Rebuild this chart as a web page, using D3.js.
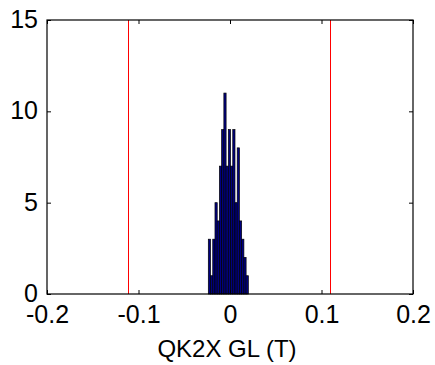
<!DOCTYPE html>
<html>
<head>
<meta charset="utf-8">
<script src="https://cdn.jsdelivr.net/npm/d3@7"></script>
<style>
  html, body { margin: 0; padding: 0; background: #fff; }
  svg text { font-family: "Liberation Sans", Arial, sans-serif; fill: #000; }
</style>
</head>
<body>
<svg id="chart" width="435" height="365"></svg>
<script>
// Histogram of QK2X GL field error (T) with tolerance limits
const binCenters = [-0.02249, -0.02006, -0.01763, -0.01520, -0.01277, -0.01034,
                    -0.00791, -0.00548, -0.00305, -0.00062, 0.00181, 0.00424,
                    0.00667, 0.00910, 0.01153, 0.01396, 0.01639, 0.01882];
const binCounts = [3, 1, 3, 5, 4, 7, 9, 11, 7, 9, 7, 9, 5, 8, 4, 3, 2, 1];
const binWidth = 0.00243;
const limits = [-0.111, 0.109];
const xTicks = [-0.2, -0.1, 0, 0.1, 0.2];
const yTicks = [0, 5, 10, 15];
const xLabel = "QK2X GL (T)";

const plot = { left: 47, right: 413, top: 20, bottom: 294 };
const fontSize = "25px";
const svg = d3.select("#chart");

const x = d3.scaleLinear().domain([-0.2, 0.2]).range([plot.left, plot.right]);
const y = d3.scaleLinear().domain([0, 15]).range([plot.bottom, plot.top]);

const fmt = d => String(d);

// bars
svg.append("g")
  .selectAll("rect")
  .data(binCenters.map((c, i) => ({ c, n: binCounts[i] })))
  .join("rect")
  .attr("x", d => x(d.c - binWidth / 2))
  .attr("width", x(binWidth) - x(0))
  .attr("y", d => y(d.n))
  .attr("height", d => y(0) - y(d.n))
  .attr("fill", "#000080")
  .attr("stroke", "#000")
  .attr("stroke-width", 0.7);

// tolerance lines
svg.append("g")
  .selectAll("line")
  .data(limits)
  .join("line")
  .attr("x1", d => Math.round(x(d)) + 0.5)
  .attr("x2", d => Math.round(x(d)) + 0.5)
  .attr("y1", plot.top)
  .attr("y2", plot.bottom)
  .attr("stroke", "#ff0000")
  .attr("stroke-width", 1);

// axes: ticks pointing inward, box closed on all four sides
const tickLen = 4;
const styleAxis = g => {
  g.select(".domain").remove();
  g.selectAll(".tick line").attr("stroke", "#000");
  g.selectAll("text").style("font-size", fontSize);
};

svg.append("g")
  .attr("transform", `translate(0,${plot.bottom})`)
  .call(d3.axisBottom(x).tickValues(xTicks).tickFormat(fmt).tickSize(-tickLen).tickPadding(11))
  .call(styleAxis)
  .call(g => g.selectAll("text").attr("dy", "0.72em"));

svg.append("g")
  .attr("transform", `translate(0,${plot.top})`)
  .call(d3.axisTop(x).tickValues(xTicks).tickFormat("").tickSize(-tickLen))
  .call(styleAxis);

svg.append("g")
  .attr("transform", `translate(${plot.left},0)`)
  .call(d3.axisLeft(y).tickValues(yTicks).tickFormat(fmt).tickSize(-tickLen).tickPadding(9))
  .call(styleAxis)
  .call(g => g.selectAll("text").attr("dy", "0.3em"));

svg.append("g")
  .attr("transform", `translate(${plot.right},0)`)
  .call(d3.axisRight(y).tickValues(yTicks).tickFormat("").tickSize(-tickLen))
  .call(styleAxis);

svg.append("rect")
  .attr("x", plot.left)
  .attr("y", plot.top)
  .attr("width", plot.right - plot.left)
  .attr("height", plot.bottom - plot.top)
  .attr("fill", "none")
  .attr("stroke", "#000")
  .attr("stroke-width", 1.2);

svg.append("text")
  .attr("x", (plot.left + plot.right) / 2 - 3)
  .attr("y", 357)
  .attr("text-anchor", "middle")
  .style("font-size", "24px")
  .text(xLabel);
</script>
</body>
</html>
